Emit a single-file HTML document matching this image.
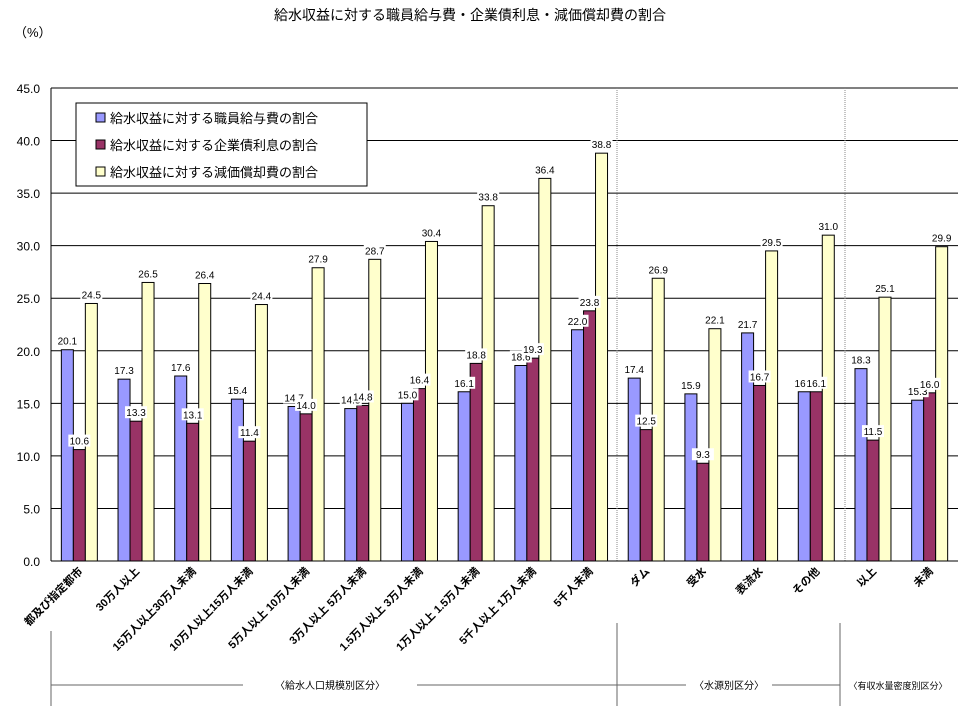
<!DOCTYPE html>
<html><head><meta charset="utf-8"><style>
body{margin:0;background:#fff;}
svg text{font-family:"Liberation Sans","Noto Sans CJK JP",sans-serif;}
</style></head><body>
<svg id="c" width="970" height="716" xmlns="http://www.w3.org/2000/svg">
<text x="470" y="20" font-size="14" text-anchor="middle">給水収益に対する職員給与費・企業債利息・減価償却費の割合</text>
<text x="14" y="37" font-size="13">（%）</text>
<g id="grid"></g><g id="bars"></g><g id="labels"></g>
<line x1="617" y1="88" x2="617" y2="561" stroke="#888" stroke-dasharray="1,1"/>
<line x1="845" y1="88" x2="845" y2="561" stroke="#888" stroke-dasharray="1,1"/>
<line x1="51" y1="88" x2="51" y2="561" stroke="#000"/>
<line x1="51" y1="561" x2="958" y2="561" stroke="#000"/>
<g>
<rect x="76" y="103" width="291" height="83" fill="#fff" stroke="#000"/>
<rect x="96" y="113" width="9" height="9" fill="#9999ff" stroke="#000"/>
<text x="110" y="123" font-size="13">給水収益に対する職員給与費の割合</text>
<rect x="96" y="140" width="9" height="9" fill="#993366" stroke="#000"/>
<text x="110" y="150" font-size="13">給水収益に対する企業債利息の割合</text>
<rect x="96" y="167" width="9" height="9" fill="#ffffcc" stroke="#000"/>
<text x="110" y="177" font-size="13">給水収益に対する減価償却費の割合</text>
</g>
<g stroke="#666">
<line x1="51" y1="631" x2="51" y2="706"/><line x1="617" y1="623" x2="617" y2="706"/><line x1="840" y1="623" x2="840" y2="706"/>
<line x1="51" y1="685" x2="243" y2="685"/><line x1="417" y1="685" x2="686" y2="685"/><line x1="772" y1="685" x2="840" y2="685"/>
</g>
<text x="330" y="689" font-size="10" text-anchor="middle">〈給水人口規模別区分〉</text>
<text x="729" y="689" font-size="10" text-anchor="middle">〈水源別区分〉</text>
<text x="898" y="689" font-size="9" text-anchor="middle">〈有収水量密度別区分〉</text>
<g id="xl"></g>
</svg>
<script>
const categories=["都及び指定都市","30万人以上","15万人以上30万人未満","10万人以上15万人未満","5万人以上 10万人未満","3万人以上 5万人未満","1.5万人以上 3万人未満","1万人以上 1.5万人未満","5千人以上 1万人未満","5千人未満","ダム","受水","表流水","その他","以上","未満"];
const salary=[20.1,17.3,17.6,15.4,14.7,14.5,15.0,16.1,18.6,22.0,17.4,15.9,21.7,16.1,18.3,15.3];
const interest=[10.6,13.3,13.1,11.4,14.0,14.8,16.4,18.8,19.3,23.8,12.5,9.3,16.7,16.1,11.5,16.0];
const depreciation=[24.5,26.5,26.4,24.4,27.9,28.7,30.4,33.8,36.4,38.8,26.9,22.1,29.5,31.0,25.1,29.9];
const yTicks=[0,5,10,15,20,25,30,35,40,45];
const NS="http://www.w3.org/2000/svg";
const X0=51,X1=958,Y0=561,Y1=88,YMAX=45;
const gw=(X1-X0)/categories.length;
function y(v){return Y0-(v/YMAX)*(Y0-Y1);}
function gx(i){return X0+i*gw;}
function mk(t,a,p){const e=document.createElementNS(NS,t);for(const k in a)e.setAttribute(k,a[k]);p.appendChild(e);return e;}
const grid=document.getElementById('grid');
yTicks.forEach(t=>{
  if(t>0){const l=mk('line',{x1:X0,x2:X1,y1:y(t),y2:y(t),stroke:'#000','stroke-width':1},grid);
  
  }
  const tx=mk('text',{x:40,y:y(t)+5,'font-size':12,'text-anchor':'end','font-family':'Liberation Mono, monospace'},grid);
  tx.textContent=t.toFixed(1);
  
  
});
const series=[[salary,'#9999ff','salary'],[interest,'#993366','interest'],[depreciation,'#ffffcc','depreciation']];
const bg=document.getElementById('bars'),lg=document.getElementById('labels');
const bw=12;
categories.forEach((c,i)=>{
  series.forEach((s,j)=>{
    const v=s[0][i];const x=gx(i)+gw/2-18+j*bw;
    const r=mk('rect',{x:x,y:y(v),width:bw,height:Y0-y(v),fill:s[1],stroke:'#000','stroke-width':1},bg);
    
    
    const cx=x+bw/2, ly=y(v)-9;
    const b=mk('rect',{x:cx-11,y:ly-6,width:22,height:12,fill:'#fff'},lg);
    
    
    const t=mk('text',{x:cx,y:ly+4,'font-size':10,'text-anchor':'middle','font-family':'Liberation Mono, monospace'},lg);
    t.textContent=v.toFixed(1);
    
    
  });
  const cx=gx(i)+gw/2+4;
  const t=mk('text',{x:cx,y:572,'font-size':11,'font-weight':'bold','text-anchor':'end',transform:'rotate(-45 '+cx+' 572)'},document.getElementById('xl'));
  t.textContent=c;
  
  
});
</script>
</body></html>
